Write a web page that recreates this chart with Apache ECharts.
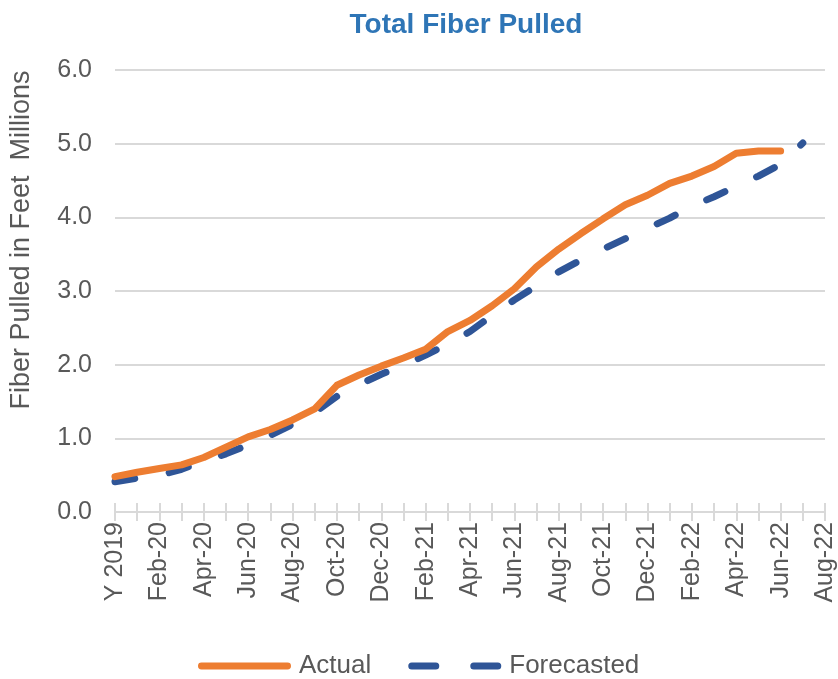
<!DOCTYPE html>
<html><head><meta charset="utf-8">
<script src="https://cdn.jsdelivr.net/npm/echarts@6/dist/echarts.min.js"></script>
<style>html,body{margin:0;padding:0;background:#fff}#c{width:838px;height:679px}</style>
</head><body><div id="c"></div>
<script>
const categories = ["Y 2019","Jan-20","Feb-20","Mar-20","Apr-20","May-20","Jun-20","Jul-20","Aug-20","Sep-20","Oct-20","Nov-20","Dec-20",
  "Jan-21","Feb-21","Mar-21","Apr-21","May-21","Jun-21","Jul-21","Aug-21","Sep-21","Oct-21","Nov-21","Dec-21",
  "Jan-22","Feb-22","Mar-22","Apr-22","May-22","Jun-22","Jul-22","Aug-22"];
const actual = [0.48,0.54,0.59,0.64,0.74,0.88,1.02,1.12,1.25,1.40,1.72,1.86,1.98,2.09,2.21,2.45,2.60,2.80,3.03,3.33,3.57,3.78,3.98,4.17,4.30,4.46,4.56,4.69,4.87,4.90,4.90];
const forecast = [0.41,0.46,0.50,0.58,0.69,0.79,0.91,1.04,1.19,1.35,1.57,1.73,1.87,1.99,2.13,2.28,2.45,2.67,2.88,3.07,3.26,3.42,3.57,3.71,3.85,3.99,4.15,4.28,4.42,4.56,4.72,5.01];
const yTicks = [0,1,2,3,4,5,6];

const chart = echarts.init(document.getElementById('c'));
const grey = '#595959';
const font = 'Liberation Sans, Arial, sans-serif';
const solidIcon = 'path://M3.5,0 h87 a3.5,3.5 0 0 1 0,7 h-87 a3.5,3.5 0 0 1 0,-7 z';
const dashIcon = 'path://M3.5,0 h24 a3.5,3.5 0 0 1 0,7 h-24 a3.5,3.5 0 0 1 0,-7 z M65.5,0 h24 a3.5,3.5 0 0 1 0,7 h-24 a3.5,3.5 0 0 1 0,-7 z';
chart.setOption({
  animation:false,
  title:{text:'Total Fiber Pulled',left:461,textAlign:'center',top:6,
    textStyle:{color:'#2E75B6',fontSize:28,fontWeight:'bold',fontFamily:font}},
  grid:{left:115,right:13,top:70,bottom:167},
  legend:{top:648,left:193,itemWidth:93,itemHeight:7,itemGap:37,
    itemStyle:{borderWidth:0},
    textStyle:{color:grey,fontSize:26,fontFamily:font,padding:[0,0,0,3]},
    data:[{name:'Actual',icon:solidIcon},{name:'Forecasted',icon:dashIcon}]},
  xAxis:[{type:'category',data:categories,boundaryGap:false,position:'bottom',
    axisLine:{lineStyle:{color:'#D9D9D9',width:2}},
    axisTick:{show:true,interval:0,length:9,lineStyle:{color:'#D9D9D9',width:2}},
    axisLabel:{rotate:90,interval:1,color:grey,fontSize:25,fontFamily:font,margin:10},
    splitLine:{show:false}},
   {type:'category',data:categories,boundaryGap:false,position:'bottom',
    axisLine:{show:false},
    axisTick:{show:true,inside:true,interval:0,length:9,lineStyle:{color:'#D9D9D9',width:2}},
    axisLabel:{show:false},splitLine:{show:false}}],
  yAxis:{type:'value',min:0,max:6,interval:1,
    name:'Fiber Pulled in Feet  Millions',nameLocation:'middle',nameGap:80,nameRotate:90,
    nameTextStyle:{color:grey,fontSize:27,fontFamily:font,padding:[0,0,0,102]},
    axisLabel:{color:grey,fontSize:25,fontFamily:font,margin:23,formatter:v=>v.toFixed(1)},
    axisLine:{show:false},axisTick:{show:false},
    splitLine:{lineStyle:{color:'#D9D9D9',width:2}}},
  series:[
    {name:'Actual',type:'line',data:actual,showSymbol:false,symbol:'none',z:3,
      lineStyle:{color:'#ED7D31',width:7,cap:'round',join:'round'},itemStyle:{color:'#ED7D31'}},
    {name:'Forecasted',type:'line',data:forecast,showSymbol:false,symbol:'none',z:2,
      lineStyle:{color:'#2F5597',width:7,type:[20,35],cap:'round',join:'round'},itemStyle:{color:'#2F5597'}}
  ]
});
</script></body></html>
